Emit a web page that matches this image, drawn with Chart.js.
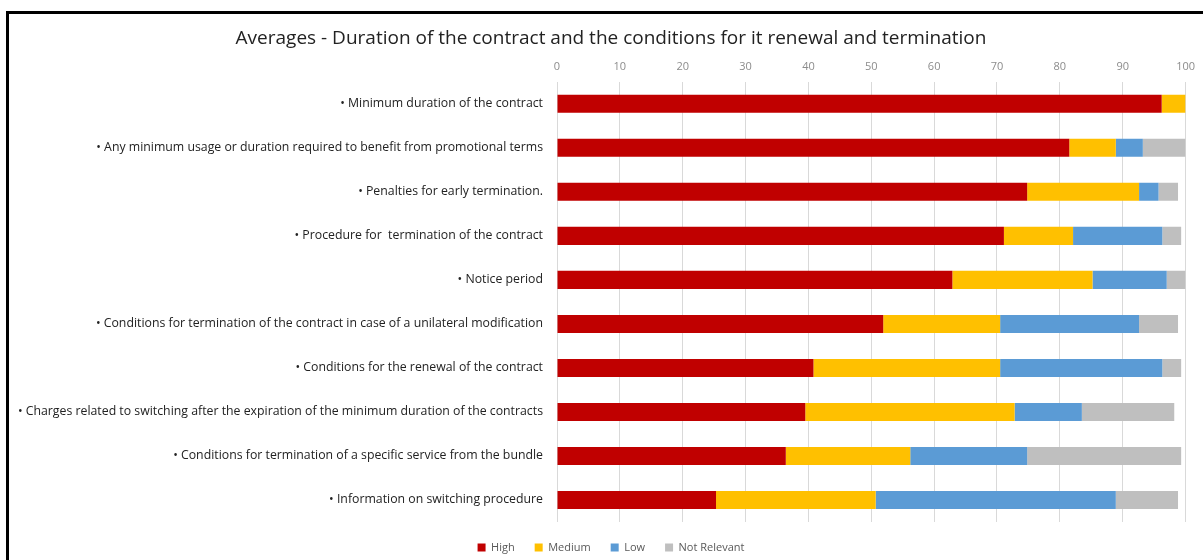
<!DOCTYPE html>
<html>
<head>
<meta charset="utf-8">
<title>Averages - Duration of the contract</title>
<script src="https://cdn.jsdelivr.net/npm/chart.js@4.4.1/dist/chart.umd.min.js"></script>
<style>
  html, body { margin: 0; padding: 0; background: #fff; overflow: hidden; }
  .frame {
    position: absolute; left: 6px; top: 11px; width: 1300px; height: 700px;
    border-left: 3px solid #000; border-top: 3px solid #000;
  }
  #chart { position: absolute; left: 0; top: 0; }
</style>
</head>
<body>
<div class="frame"></div>
<canvas id="chart" width="1203" height="563"></canvas>
<script>
const categories = [
  '\u2022 Minimum duration of the contract',
  '\u2022 Any minimum usage or duration required to benefit from promotional terms',
  '\u2022 Penalties for early termination.',
  '\u2022 Procedure for  termination of the contract',
  '\u2022 Notice period',
  '\u2022 Conditions for termination of the contract in case of a unilateral modification',
  '\u2022 Conditions for the renewal of the contract',
  '\u2022 Charges related to switching after the expiration of the minimum duration of the contracts',
  '\u2022 Conditions for termination of a specific service from the bundle',
  '\u2022 Information on switching procedure'
];

const high = [96.2, 81.5, 74.8, 71.1, 62.9, 51.9, 40.8, 39.5, 36.4, 25.3];
const medium = [3.8, 7.4, 17.8, 11.0, 22.3, 18.6, 29.7, 33.3, 19.8, 25.4];
const low = [0, 4.3, 3.1, 14.2, 11.8, 22.1, 25.8, 10.7, 18.6, 38.2];
const notRelevant = [0, 6.8, 3.1, 3.0, 3.0, 6.2, 3.0, 14.7, 24.5, 9.9];

const seriesNames = ['High', 'Medium', 'Low', 'Not Relevant'];
const seriesColors = ['#C00000', '#FFC000', '#5B9BD5', '#BFBFBF'];

const font = '"Open Sans", Lato, sans-serif';

// the long category labels run past the left padding, so don't clip them to the axis box
const labelRoom = {
  id: 'labelRoom',
  afterLayout(chart) {
    chart.scales.y.left = 0;
  }
};

new Chart(document.getElementById('chart'), {
  type: 'bar',
  data: {
    labels: categories,
    datasets: [high, medium, low, notRelevant].map((values, i) => ({
      label: seriesNames[i],
      data: values,
      backgroundColor: seriesColors[i],
      borderWidth: 0,
      barPercentage: 0.41,
      categoryPercentage: 1
    }))
  },
  options: {
    indexAxis: 'y',
    responsive: false,
    animation: false,
    layout: { padding: { left: 35, right: 16, top: 0, bottom: 0 } },
    plugins: {
      title: {
        display: true,
        text: 'Averages - Duration of the contract and the conditions for it renewal and termination',
        color: '#222',
        font: { family: font, size: 19, weight: 'normal' },
        padding: { top: 27, bottom: 5 }
      },
      legend: {
        position: 'bottom',
        labels: {
          boxWidth: 8,
          boxHeight: 8,
          padding: 20,
          color: '#595959',
          font: { family: font, size: 11 }
        }
      },
      tooltip: { enabled: false }
    },
    scales: {
      x: {
        position: 'top',
        stacked: true,
        min: 0,
        max: 100,
        ticks: {
          stepSize: 10,
          padding: 8,
          color: '#8c8c8c',
          font: { family: font, size: 11 }
        },
        grid: { color: '#d9d9d9', drawTicks: false },
        border: { display: false },
        afterFit: (scale) => { scale.height = 27; }
      },
      y: {
        stacked: true,
        ticks: {
          padding: 14,
          color: '#222',
          font: { family: font, size: 12.3 }
        },
        grid: { display: false, drawTicks: false },
        border: { display: false },
        afterFit: (scale) => { scale.width = 522; }
      }
    }
  },
  plugins: [labelRoom]
});
</script>
</body>
</html>
